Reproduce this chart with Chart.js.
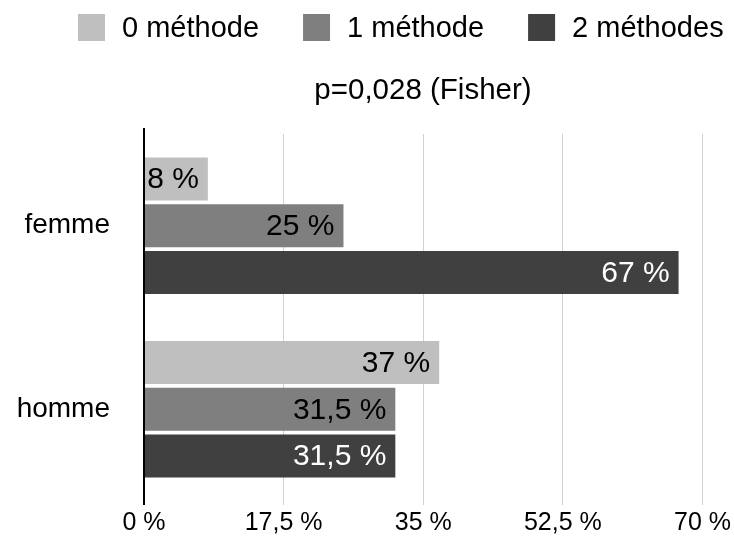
<!DOCTYPE html>
<html>
<head>
<meta charset="utf-8">
<script src="https://cdn.jsdelivr.net/npm/chart.js@4/dist/chart.umd.min.js"></script>
<style>
  html, body { margin: 0; padding: 0; background: #fff; }
  #wrap { width: 734px; height: 538px; }
</style>
</head>
<body>
<div id="wrap"><canvas id="c" width="734" height="538"></canvas></div>
<script>
const categories = ["femme", "homme"];
const seriesNames = ["0 méthode", "1 méthode", "2 méthodes"];
const values0 = [8, 37];
const values1 = [25, 31.5];
const values2 = [67, 31.5];
const labels0 = ["8 %", "37 %"];
const labels1 = ["25 %", "31,5 %"];
const labels2 = ["67 %", "31,5 %"];
const xTicks = [0, 17.5, 35, 52.5, 70];
const titleText = "p=0,028 (Fisher)";

const colors = ["#bfbfbf", "#7f7f7f", "#404040"];
const labelColors = ["#000000", "#000000", "#ffffff"];
const FONT = "'Liberation Sans', Arial, sans-serif";

const fmt = v => String(v).replace('.', ',') + ' %';

const legendTitlePlugin = {
  id: 'legendTitle',
  afterDraw(chart) {
    const ctx = chart.ctx;
    ctx.save();
    ctx.font = "29px " + FONT;
    ctx.textBaseline = 'middle';
    ctx.textAlign = 'left';
    let x = 78;
    const box = 27, yTop = 14;
    seriesNames.forEach((n, i) => {
      ctx.fillStyle = colors[i];
      ctx.fillRect(x, yTop, box, box);
      ctx.fillStyle = '#000';
      const tx = x + box + 17;
      ctx.fillText(n, tx, yTop + box / 2 + 1);
      x = tx + ctx.measureText(n).width + 44;
    });
    ctx.font = "29.5px " + FONT;
    ctx.textAlign = 'center';
    ctx.fillText(titleText, 423, 91);
    // vertical axis line, extending slightly beyond the plot area
    const xs = chart.scales.x;
    const x0 = Math.round(xs.getPixelForValue(0));
    ctx.strokeStyle = '#000';
    ctx.lineWidth = 2;
    ctx.beginPath();
    ctx.moveTo(x0, chart.chartArea.top - 6);
    ctx.lineTo(x0, chart.chartArea.bottom + 4);
    ctx.stroke();
    ctx.restore();
  }
};

const dataLabelPlugin = {
  id: 'dataLabels',
  afterDatasetsDraw(chart) {
    const ctx = chart.ctx;
    const lbls = [labels0, labels1, labels2];
    ctx.save();
    ctx.font = "30px " + FONT;
    ctx.textAlign = 'right';
    ctx.textBaseline = 'middle';
    chart.data.datasets.forEach((ds, di) => {
      const meta = chart.getDatasetMeta(di);
      meta.data.forEach((bar, i) => {
        ctx.fillStyle = labelColors[di];
        ctx.fillText(lbls[di][i], bar.x - 9, bar.y + 1);
      });
    });
    ctx.restore();
  }
};

new Chart(document.getElementById('c'), {
  type: 'bar',
  data: {
    labels: categories,
    datasets: [
      { label: seriesNames[0], data: values0, backgroundColor: colors[0] },
      { label: seriesNames[1], data: values1, backgroundColor: colors[1] },
      { label: seriesNames[2], data: values2, backgroundColor: colors[2] }
    ]
  },
  options: {
    indexAxis: 'y',
    responsive: false,
    animation: false,
    devicePixelRatio: 1,
    categoryPercentage: 0.763,
    barPercentage: 0.92,
    layout: { padding: { top: 134, left: 0, right: 29, bottom: 0 } },
    plugins: {
      legend: { display: false },
      title: { display: false },
      tooltip: { enabled: false }
    },
    scales: {
      x: {
        min: 0, max: 70,
        afterBuildTicks: s => { s.ticks = xTicks.map(v => ({ value: v })); },
        afterFit: s => { s.height = 37; },
        ticks: {
          callback: v => fmt(v),
          font: { family: FONT, size: 25 },
          color: '#000',
          padding: 3,
          maxRotation: 0
        },
        grid: { color: '#d0d0d0', lineWidth: 1, tickLength: 4 },
        border: { display: false }
      },
      y: {
        afterFit: s => { s.width = 144; s.paddingTop = 0; s.paddingBottom = 0; },
        ticks: {
          font: { family: FONT, size: 28 },
          color: '#000',
          padding: 26
        },
        grid: { display: false },
        border: { display: false }
      }
    }
  },
  plugins: [dataLabelPlugin, legendTitlePlugin]
});
</script>
</body>
</html>
